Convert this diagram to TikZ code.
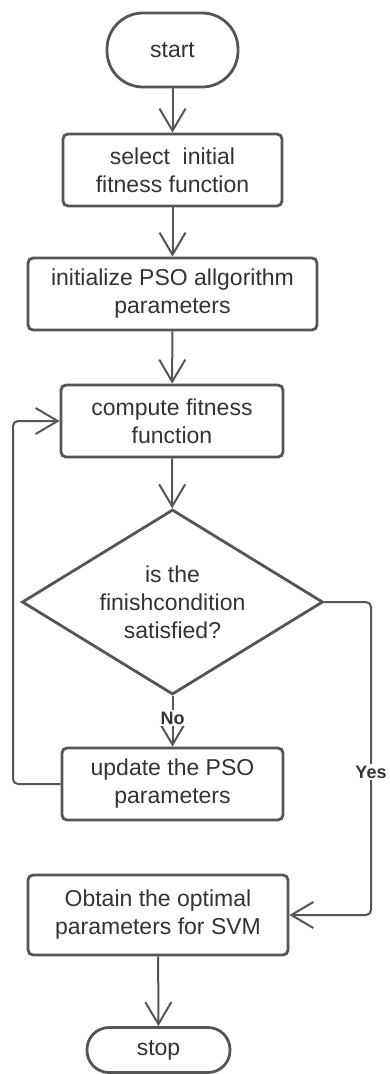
\documentclass[tikz,border=0pt]{standalone}
\usepackage{fontspec}
\setmainfont{Liberation Sans}
\usetikzlibrary{arrows.meta,shapes.geometric}
\definecolor{flowline}{HTML}{555555}
\definecolor{flowtext}{HTML}{333333}
\tikzset{
  stepbox/.style={draw=flowline, line width=2.8pt, rounded corners=5pt, text=flowtext,
    inner sep=0pt, align=center, font=\fontsize{23}{28}\selectfont},
  terminal/.style={stepbox, rounded corners=#1},
  decision/.style={draw=flowline, line width=2.8pt, shape=diamond, aspect=1.63, inner sep=0pt,
    text=flowtext, align=center, font=\fontsize{23}{28}\selectfont},
  flow/.style={draw=flowline, line width=2pt, -{Straight Barb[length=22pt,width=26pt]}},
  answer/.style={fill=white, text=flowtext, inner sep=2pt, font=\bfseries\fontsize{18}{20}\selectfont}
}

\begin{document}
\begin{tikzpicture}[x=1pt, y=-1pt]
			%%%%% START %%%%%
			\useasboundingbox (0, 0) rectangle (389, 1074);
			
			\node[terminal=36pt, minimum width=131pt, minimum height=74pt] (start) at (172.5, 50) {start};
			\node[stepbox, minimum width=219pt, minimum height=72pt] (select) at (172.5, 170) {select\ \ initial\\fitness function};
			\node[stepbox, minimum width=289pt, minimum height=72pt] (init) at (172.5, 294) {initialize PSO allgorithm\\parameters};
			\node[stepbox, minimum width=222pt, minimum height=72pt] (compute) at (172, 421) {compute fitness\\function};
			\node[decision, minimum width=301pt, minimum height=185pt] (decide) at (172.5, 602) {is the\\finishcondition\\satisfied?};
			\node[stepbox, minimum width=221pt, minimum height=72pt] (update) at (172.5, 784) {update the PSO\\parameters};
			\node[stepbox, minimum width=260pt, minimum height=80pt] (obtain) at (158, 915) {Obtain the optimal\\parameters for SVM};
			\node[terminal=22pt, minimum width=143pt, minimum height=45pt] (stop) at (158.5, 1050) {stop};
			
			\coordinate (loopback) at (13, 600);
			\coordinate (yesrail) at (371, 700);
			
			\draw[flow] (start) -- (select);
			\draw[flow] (select) -- (init);
			\draw[flow] (init) -- (compute);
			\draw[flow] (compute) -- (decide);
			\draw[flow] (decide.south) -- node[answer, pos=0.44] {No} (update.north);
			\draw[flow, rounded corners=5pt] (update.west) -- (update.west -| loopback) -- (compute.west -| loopback) -- (compute.west);
			\draw[flow, rounded corners=5pt] (decide.east) -- (decide.east -| yesrail) -- (obtain.east -| yesrail) -- (obtain.east);
			\node[answer] (yes) at (371, 772) {Yes};
			\draw[flow] (obtain) -- (stop);
			
			%%%%% END %%%%%
\end{tikzpicture}
\end{document}
